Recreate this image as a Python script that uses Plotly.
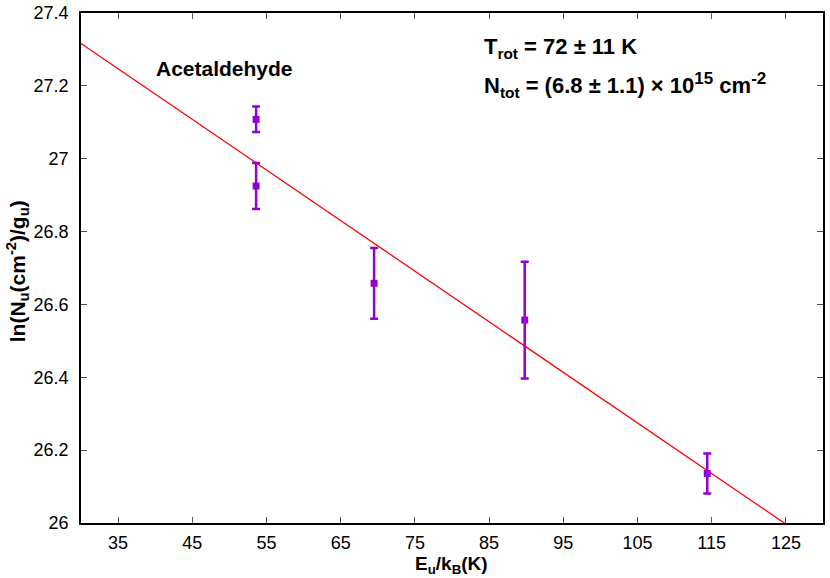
import plotly.graph_objects as go

# rotation diagram points
eu = [53.6, 53.6, 69.5, 89.8, 114.4]
ln_nu = [27.108, 26.925, 26.658, 26.557, 26.136]
err = [0.035, 0.063, 0.097, 0.160, 0.055]

# fit: ln(N/g) = a - E/T
fit_a = 27.733
fit_T = 72.0
fit_x = [30, 125]

x_ticks = [35, 45, 55, 65, 75, 85, 95, 105, 115, 125]
y_ticks = [26, 26.2, 26.4, 26.6, 26.8, 27, 27.2, 27.4]

fit_y = [fit_a - x / fit_T for x in fit_x]

fig = go.Figure()
fig.add_trace(go.Scatter(x=fit_x, y=fit_y, mode="lines",
                         line=dict(color="#ff0000", width=1.3),
                         showlegend=False))
fig.add_trace(go.Scatter(x=eu, y=ln_nu, mode="markers",
                         marker=dict(symbol="square", size=7, color="#9400d3"),
                         error_y=dict(type="data", array=err, visible=True,
                                      color="#9400d3", thickness=2.5, width=4),
                         showlegend=False))

axis_common = dict(showgrid=False, zeroline=False, showline=True,
                   linecolor="black", linewidth=1.5, mirror="allticks",
                   ticks="inside", ticklen=6, tickcolor="#555555",
                   tickfont=dict(size=18, color="black"), automargin=False,
                   ticklabeloverflow="allow")

fig.update_xaxes(range=[30, 130], tickvals=x_ticks, ticklabelstandoff=3,
                 **axis_common)
fig.update_yaxes(range=[26, 27.4], tickvals=y_ticks, ticklabelstandoff=7,
                 ticktext=[f"{v:g}" for v in y_ticks],
                 **axis_common)

# axis titles as annotations so they sit exactly where wanted
fig.add_annotation(x=0.499, y=-0.082, xref="paper", yref="paper",
                   text="<b>E<sub>u</sub>/k<sub>B</sub>(K)</b>", showarrow=False,
                   xanchor="center", yanchor="middle", font=dict(size=19))
fig.add_annotation(x=-0.086, y=0.494, xref="paper", yref="paper",
                   text="<b>ln(N<sub>u</sub>(cm<sup>-2</sup>)/g<sub>u</sub>)</b>",
                   showarrow=False, textangle=-90,
                   xanchor="center", yanchor="middle", font=dict(size=21))

big_sup = '<sup><span style="font-size:17px">{}</span></sup>'

fig.add_annotation(x=0.099, y=0.892, xref="paper", yref="paper",
                   text="<b>Acetaldehyde</b>", showarrow=False,
                   xanchor="left", yanchor="middle", font=dict(size=21))
fig.add_annotation(x=0.541, y=0.931, xref="paper", yref="paper",
                   text="<b>T<sub>rot</sub> = 72 ± 11 K</b>", showarrow=False,
                   xanchor="left", yanchor="middle", font=dict(size=22))
fig.add_annotation(x=0.541, y=0.858, xref="paper", yref="paper",
                   text="<b>N<sub>tot</sub> = (6.8 ± 1.1) × 10" + big_sup.format("15")
                        + " cm" + big_sup.format("-2") + "</b>",
                   showarrow=False, xanchor="left", yanchor="middle",
                   font=dict(size=22))

fig.update_layout(width=830, height=578,
                  margin=dict(l=81, r=7, t=13, b=55),
                  plot_bgcolor="white", paper_bgcolor="white",
                  font=dict(family="Liberation Sans, Arial, sans-serif", color="black"))

# drop the default 8px body margin so the figure fills the window
fig.write_html("out.html", config={"displayModeBar": False},
               post_script="document.body.style.margin='0px';")
